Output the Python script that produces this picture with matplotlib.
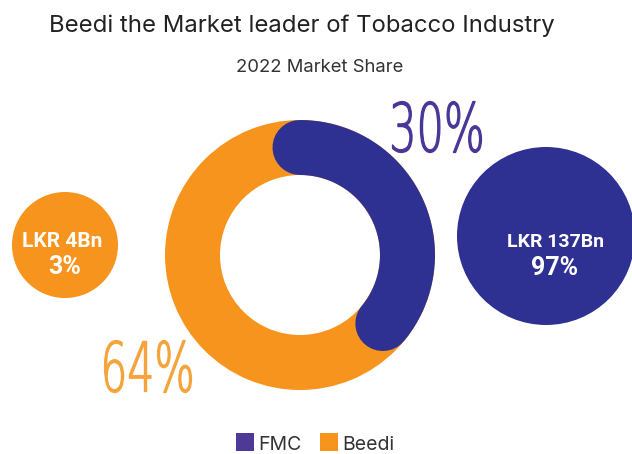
import numpy as np
import matplotlib
matplotlib.use('Agg')
import matplotlib.pyplot as plt
from matplotlib.patches import Wedge, Circle, PathPatch, Rectangle
from matplotlib.textpath import TextPath
from matplotlib.font_manager import FontProperties
from matplotlib.transforms import Affine2D

# data
title = 'Beedi the Market leader of Tobacco Industry'
subtitle = '2022 Market Share'
series = ['FMC', 'Beedi']
donut_labels = ['30%', '64%']
fmc_arc_share = 0.36          # share of the ring covered by the FMC arc (as drawn)
bubble_values = ['LKR 4Bn', 'LKR 137Bn']
bubble_pcts = ['3%', '97%']

purple = '#2E3192'
orange = '#F7941E'
purple_txt = '#4B3596'
orange_txt = '#F5A43B'
legend_purple = '#4E3A96'

fig = plt.figure(figsize=(6.32, 4.54), dpi=100)
ax = fig.add_axes([0, 0, 1, 1])
ax.set_xlim(0, 632)
ax.set_ylim(454, 0)
ax.set_aspect('equal')
ax.axis('off')

# donut: full orange ring, purple arc on top with round caps
cx, cy = 300, 255
r_out, r_in = 135, 80
ax.add_patch(Wedge((cx, cy), r_out, 0, 360, width=r_out - r_in, color=orange, lw=0))

r_mid = (r_out + r_in) / 2
t = np.radians(np.linspace(90, 90 - fmc_arc_share * 360, 200))
px_to_pt = 72 / fig.dpi
ax.plot(cx + r_mid * np.cos(t), cy - r_mid * np.sin(t), color=purple,
        lw=(r_out - r_in) * px_to_pt, solid_capstyle='round')


# condensed percentage labels, fitted into a box
def fitted_text(s, box, color):
    x0, y0, x1, y1 = box
    tp = TextPath((0, 0), s, size=50, prop=FontProperties(family='DejaVu Sans', weight='light'))
    ext = tp.get_extents()
    sx = (x1 - x0) / ext.width
    sy = (y1 - y0) / ext.height
    tr = Affine2D().translate(-ext.x0, -ext.y0).scale(sx, -sy).translate(x0, y1)
    ax.add_patch(PathPatch(tr.transform_path(tp), facecolor=color, edgecolor=color,
                           lw=0.9, joinstyle='round'))


fitted_text(donut_labels[0], (392.5, 101.5, 481.5, 152.5), purple_txt)
fitted_text(donut_labels[1], (104.5, 340.5, 191.5, 392.5), orange_txt)

# bubbles
ax.add_patch(Circle((65, 245), 53, color=orange, lw=0))
ax.add_patch(Circle((546, 236), 89, color=purple, lw=0))
ax.text(62.5, 246.7, bubble_values[0], color='white', fontsize=15, fontweight='bold',
        family='Roboto', ha='center', va='baseline')
ax.text(65, 274, bubble_pcts[0], color='white', fontsize=18, fontweight='bold',
        family='Roboto', ha='center', va='baseline')
ax.text(555.5, 246.7, bubble_values[1], color='white', fontsize=14, fontweight='bold',
        family='Roboto', ha='center', va='baseline')
ax.text(554.5, 275, bubble_pcts[1], color='white', fontsize=18, fontweight='bold',
        family='Roboto', ha='center', va='baseline')

# titles
ax.text(49, 31.7, title, fontsize=17.2, family='Inter', color='#222222', ha='left', va='baseline')
ax.text(320, 71.7, subtitle, fontsize=13.3, family='Inter', color='#333333',
        ha='center', va='baseline')

# legend
for x, c, name in [(236, legend_purple, series[0]), (320, orange, series[1])]:
    ax.add_patch(Rectangle((x, 433), 18, 18, color=c, lw=0))
    ax.text(x + 22, 450, name, fontsize=14, family='Inter', color='#333333',
            ha='left', va='baseline')

fig.savefig('out.png', dpi=100)
